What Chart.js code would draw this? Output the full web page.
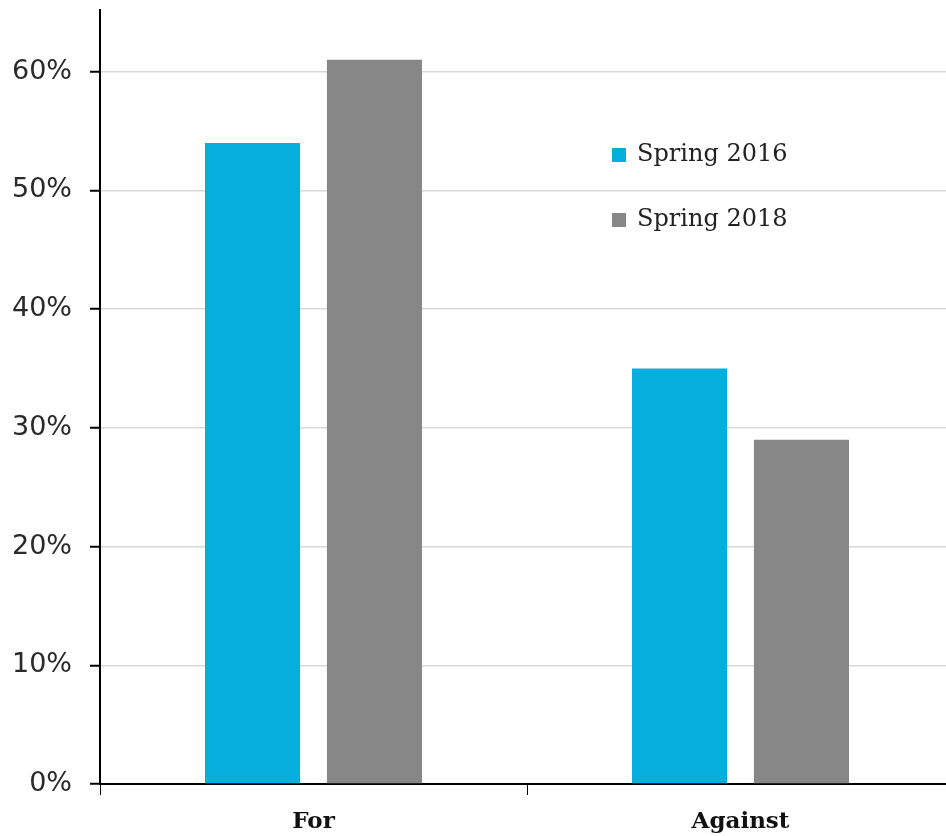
<!DOCTYPE html>
<html lang="en">
<head>
<meta charset="UTF-8">
<title>For / Against</title>
<script src="https://cdn.jsdelivr.net/npm/chart.js"></script>
<style>
  html, body { margin: 0; padding: 0; background: #fff; overflow: hidden; }
  #wrap { width: 956px; height: 836px; }
</style>
</head>
<body>
<div id="wrap"><canvas id="chart"></canvas></div>
<script>
// data
const categories = ['For', 'Against'];
const seriesNames = ['Spring 2016', 'Spring 2018'];
const spring2016 = [54, 35];
const spring2018 = [61, 29];
const yTicks = [0, 10, 20, 30, 40, 50, 60];

const colors = ['#05aedd', '#878787'];

// legend drawn inside the plot, to the right
const insideLegend = {
  id: 'insideLegend',
  afterDraw(chart) {
    const ctx = chart.ctx;
    const area = chart.chartArea;
    ctx.save();
    ctx.font = '24px "DejaVu Serif"';
    ctx.textBaseline = 'middle';
    chart.data.datasets.forEach((ds, i) => {
      const y = area.top + 145 + i * 65;
      ctx.fillStyle = ds.backgroundColor;
      ctx.fillRect(area.left + 512, y - 7, 14, 14);
      ctx.fillStyle = '#222';
      ctx.fillText(ds.label, area.left + 537, y);
    });
    ctx.restore();
  }
};

new Chart(document.getElementById('chart'), {
  type: 'bar',
  data: {
    labels: categories,
    datasets: [
      { label: seriesNames[0], data: spring2016, backgroundColor: colors[0] },
      { label: seriesNames[1], data: spring2018, backgroundColor: colors[1] }
    ]
  },
  options: {
    responsive: true,
    maintainAspectRatio: false,
    animation: false,
    layout: { padding: { top: 10, right: 2 } },
    categoryPercentage: 0.571,
    barPercentage: 0.78,
    plugins: {
      legend: { display: false },
      tooltip: { enabled: false }
    },
    scales: {
      x: {
        grid: {
          offset: true,
          drawOnChartArea: false,
          tickLength: 11,
          tickColor: '#000',
          lineWidth: 1
        },
        border: { color: '#000', width: 2 },
        ticks: {
          padding: 13,
          color: '#111',
          font: { family: 'DejaVu Serif', size: 23, weight: 'bold' }
        },
        afterFit(scale) { scale.height = 52; }
      },
      y: {
        min: 0,
        max: 65.2,
        afterBuildTicks(scale) { scale.ticks = yTicks.map(v => ({ value: v })); },
        grid: {
          color: '#d9d9d9',
          lineWidth: 1.5,
          tickLength: 10,
          tickColor: '#000',
          tickWidth: 2
        },
        border: { color: '#000', width: 2 },
        ticks: {
          padding: 18,
          color: '#2a2a2a',
          font: { family: 'DejaVu Sans', size: 27 },
          callback: v => v + '%'
        },
        afterFit(scale) {
          scale.width = 100;
          scale.paddingTop = 0;
          scale.paddingBottom = 0;
        }
      }
    }
  },
  plugins: [insideLegend]
});
</script>
</body>
</html>
